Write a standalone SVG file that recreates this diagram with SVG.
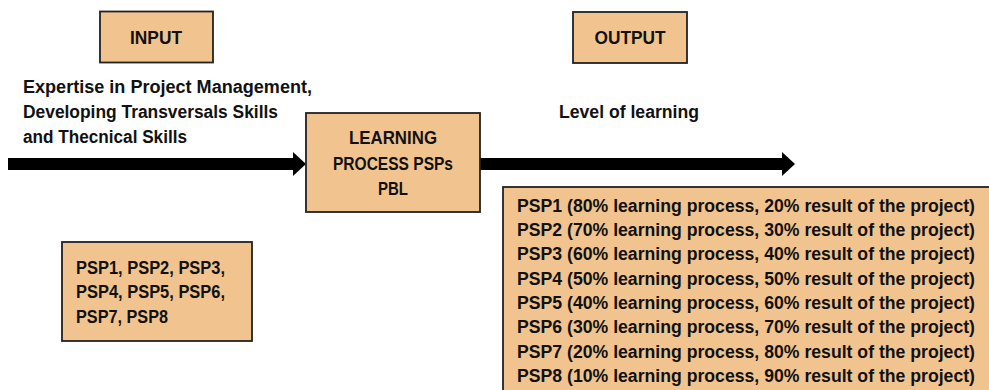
<svg xmlns="http://www.w3.org/2000/svg" width="989" height="390" viewBox="0 0 989 390">
<style>
.box{fill:#F1C48F;stroke:#222;stroke-width:1.8}
text{font-family:"Liberation Sans",Arial,sans-serif;font-weight:bold;fill:#111;font-size:17.5px}
.c{text-anchor:middle}
.h{font-size:19px}
.arr{stroke:#000;stroke-width:12;fill:none}
</style>
<defs>
<marker id="ah" markerUnits="userSpaceOnUse" markerWidth="13" markerHeight="24" refX="0" refY="12" orient="auto" overflow="visible">
<path d="M0,0 L13,12 L0,24 Z" fill="#000"/>
</marker>
</defs>
<rect width="989" height="390" fill="#fff"/>
<g id="connectors">
<line class="arr" x1="8" y1="164" x2="293" y2="164" marker-end="url(#ah)"/>
<line class="arr" x1="480" y1="164" x2="782" y2="164" marker-end="url(#ah)"/>
</g>
<g id="input">
<rect class="box" x="100" y="11.5" width="113" height="51"/>
<text class="c h" x="156" y="44" textLength="52" lengthAdjust="spacingAndGlyphs">INPUT</text>
</g>
<g id="output">
<rect class="box" x="573" y="12" width="114" height="51"/>
<text class="c h" x="630" y="44" textLength="71" lengthAdjust="spacingAndGlyphs">OUTPUT</text>
</g>
<g id="input-label">
<text x="23" y="93" textLength="289" lengthAdjust="spacingAndGlyphs">Expertise in Project Management,</text>
<text x="23" y="118" textLength="255" lengthAdjust="spacingAndGlyphs">Developing Transversals Skills</text>
<text x="23" y="142.5" textLength="164" lengthAdjust="spacingAndGlyphs">and Thecnical Skills</text>
</g>
<g id="output-label">
<text x="559" y="118" textLength="140" lengthAdjust="spacingAndGlyphs">Level of learning</text>
</g>
<g id="learning">
<rect class="box" x="306" y="113" width="174" height="99"/>
<text class="c" x="393" y="144" textLength="88" lengthAdjust="spacingAndGlyphs">LEARNING</text>
<text class="c" x="393" y="170" textLength="120" lengthAdjust="spacingAndGlyphs">PROCESS PSPs</text>
<text class="c" x="393" y="195" textLength="30" lengthAdjust="spacingAndGlyphs">PBL</text>
</g>
<g id="psp-list">
<rect class="box" x="62" y="242" width="190" height="99"/>
<text x="76" y="274" textLength="149" lengthAdjust="spacingAndGlyphs">PSP1, PSP2, PSP3,</text>
<text x="76" y="298" textLength="149" lengthAdjust="spacingAndGlyphs">PSP4, PSP5, PSP6,</text>
<text x="76" y="322.5" textLength="92" lengthAdjust="spacingAndGlyphs">PSP7, PSP8</text>
</g>
<g id="levels">
<rect class="box" x="503" y="187" width="500" height="220"/>
<text x="517" y="211.7" textLength="458" lengthAdjust="spacingAndGlyphs">PSP1 (80% learning process, 20% result of the project)</text>
<text x="517" y="236" textLength="458" lengthAdjust="spacingAndGlyphs">PSP2 (70% learning process, 30% result of the project)</text>
<text x="517" y="260.3" textLength="458" lengthAdjust="spacingAndGlyphs">PSP3 (60% learning process, 40% result of the project)</text>
<text x="517" y="284.6" textLength="458" lengthAdjust="spacingAndGlyphs">PSP4 (50% learning process, 50% result of the project)</text>
<text x="517" y="308.9" textLength="458" lengthAdjust="spacingAndGlyphs">PSP5 (40% learning process, 60% result of the project)</text>
<text x="517" y="333.2" textLength="458" lengthAdjust="spacingAndGlyphs">PSP6 (30% learning process, 70% result of the project)</text>
<text x="517" y="357.5" textLength="458" lengthAdjust="spacingAndGlyphs">PSP7 (20% learning process, 80% result of the project)</text>
<text x="517" y="381.8" textLength="458" lengthAdjust="spacingAndGlyphs">PSP8 (10% learning process, 90% result of the project)</text>
</g>
</svg>
